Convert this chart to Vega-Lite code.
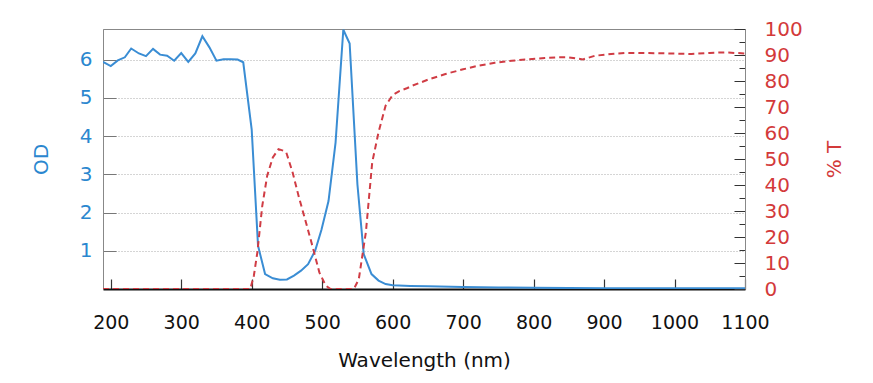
{
  "$schema": "https://vega.github.io/schema/vega-lite/v6.json",
  "width": 642,
  "height": 260,
  "autosize": {"type": "none"},
  "padding": {"left": 103, "top": 29, "right": 128, "bottom": 94},
  "background": "white",
  "config": {"view": {"stroke": "#888", "strokeWidth": 1}, "font": "DejaVu Sans"},
  "datasets": {
    "od": [
      {"wl": 189, "od": 5.94}, {"wl": 200, "od": 5.83}, {"wl": 210, "od": 5.98}, {"wl": 220, "od": 6.06},
      {"wl": 229, "od": 6.29}, {"wl": 240, "od": 6.16}, {"wl": 250, "od": 6.09}, {"wl": 260, "od": 6.28},
      {"wl": 270, "od": 6.13}, {"wl": 280, "od": 6.10}, {"wl": 290, "od": 5.97}, {"wl": 300, "od": 6.17},
      {"wl": 310, "od": 5.94}, {"wl": 320, "od": 6.16}, {"wl": 330, "od": 6.61}, {"wl": 340, "od": 6.32},
      {"wl": 350, "od": 5.97}, {"wl": 360, "od": 6.01}, {"wl": 370, "od": 6.01}, {"wl": 380, "od": 6.0},
      {"wl": 388, "od": 5.93}, {"wl": 400, "od": 4.17}, {"wl": 409, "od": 1.13}, {"wl": 419, "od": 0.39},
      {"wl": 430, "od": 0.28}, {"wl": 440, "od": 0.24}, {"wl": 450, "od": 0.25}, {"wl": 460, "od": 0.35},
      {"wl": 470, "od": 0.48}, {"wl": 480, "od": 0.65}, {"wl": 490, "od": 1.0}, {"wl": 499, "od": 1.55},
      {"wl": 509, "od": 2.30}, {"wl": 519, "od": 3.83}, {"wl": 530, "od": 6.78}, {"wl": 539, "od": 6.42},
      {"wl": 550, "od": 2.74}, {"wl": 559, "od": 0.91}, {"wl": 570, "od": 0.39}, {"wl": 580, "od": 0.22},
      {"wl": 590, "od": 0.13}, {"wl": 600, "od": 0.10}, {"wl": 625, "od": 0.08}, {"wl": 650, "od": 0.07},
      {"wl": 700, "od": 0.05}, {"wl": 750, "od": 0.04}, {"wl": 800, "od": 0.03}, {"wl": 900, "od": 0.02},
      {"wl": 1000, "od": 0.02}, {"wl": 1100, "od": 0.02}
    ],
    "t": [
      {"wl": 189, "t": 0}, {"wl": 300, "t": 0}, {"wl": 398, "t": 0}, {"wl": 403, "t": 5},
      {"wl": 408, "t": 14}, {"wl": 415, "t": 32}, {"wl": 422, "t": 43.6}, {"wl": 430, "t": 50.6},
      {"wl": 438, "t": 53.8}, {"wl": 445, "t": 53.2}, {"wl": 449, "t": 52.6}, {"wl": 458, "t": 44.9},
      {"wl": 467, "t": 35.3}, {"wl": 477, "t": 25.6}, {"wl": 486, "t": 16.7}, {"wl": 496, "t": 6.4},
      {"wl": 505, "t": 1.3}, {"wl": 512, "t": 0}, {"wl": 545, "t": 0}, {"wl": 552, "t": 3.8},
      {"wl": 562, "t": 21.8}, {"wl": 571, "t": 48.7}, {"wl": 580, "t": 60.3}, {"wl": 590, "t": 70.5},
      {"wl": 600, "t": 74.6}, {"wl": 610, "t": 76.2}, {"wl": 621, "t": 77.3}, {"wl": 628, "t": 78.2},
      {"wl": 650, "t": 80.5}, {"wl": 675, "t": 82.7}, {"wl": 700, "t": 84.5}, {"wl": 722, "t": 85.9},
      {"wl": 745, "t": 87.0}, {"wl": 769, "t": 87.8}, {"wl": 790, "t": 88.3}, {"wl": 816, "t": 88.8},
      {"wl": 835, "t": 89.1}, {"wl": 850, "t": 89.1}, {"wl": 870, "t": 88.3}, {"wl": 887, "t": 89.7},
      {"wl": 910, "t": 90.4}, {"wl": 930, "t": 90.8}, {"wl": 977, "t": 90.7}, {"wl": 1024, "t": 90.4},
      {"wl": 1050, "t": 90.8}, {"wl": 1071, "t": 91.0}, {"wl": 1100, "t": 90.6}
    ]
  },
  "layer": [
    {
      "data": {"name": "od"},
      "mark": {"type": "line", "color": "#3a8dd4", "strokeWidth": 2, "clip": true},
      "encoding": {
        "x": {
          "field": "wl", "type": "quantitative",
          "scale": {"domain": [189, 1100], "nice": false, "zero": false},
          "axis": {
            "title": "Wavelength (nm)",
            "values": [200, 300, 400, 500, 600, 700, 800, 900, 1000, 1100],
            "format": "d", "labelOverlap": false, "labelFlush": false,
            "tickSize": -10, "tickColor": "#333", "tickWidth": 1.2, "domainColor": "#111", "domainWidth": 2,
            "labelFontSize": 19, "labelColor": "#111", "labelPadding": 34,
            "titleFontSize": 20, "titleFontWeight": "normal", "titleColor": "#111", "titlePadding": 18,
            "grid": false
          }
        },
        "y": {
          "field": "od", "type": "quantitative",
          "scale": {"domain": [0, 6.8], "nice": false},
          "axis": {
            "title": "OD", "values": [1, 2, 3, 4, 5, 6],
            "tickSize": -13, "tickColor": "#777", "domainColor": "#888",
            "grid": true, "gridDash": [1, 2], "gridColor": "#aaa",
            "labelColor": "#2b87cf", "labelFontSize": 20, "labelPadding": 24,
            "titleColor": "#2b87cf", "titleFontSize": 20, "titleFontWeight": "normal", "titlePadding": 28
          }
        }
      }
    },
    {
      "data": {"name": "t"},
      "mark": {"type": "line", "color": "#d03c44", "strokeDash": [6, 4], "strokeWidth": 2, "clip": true},
      "encoding": {
        "x": {"field": "wl", "type": "quantitative"},
        "y": {
          "field": "t", "type": "quantitative",
          "scale": {"domain": [0, 100], "nice": false},
          "axis": {
            "orient": "right", "title": "% T",
            "values": [0, 5, 10, 15, 20, 25, 30, 35, 40, 45, 50, 55, 60, 65, 70, 75, 80, 85, 90, 95, 100],
            "labelExpr": "datum.value % 10 === 0 ? datum.label : ''",
            "labelOverlap": false, "labelFlush": false,
            "tickSize": {"condition": {"test": "datum.value % 10 === 0", "value": -11}, "value": -6},
            "tickColor": "#333", "domainColor": "#888", "grid": false,
            "labelColor": "#d33a3a", "labelFontSize": 20, "labelPadding": 30,
            "titleColor": "#d33a3a", "titleFontSize": 20, "titleFontWeight": "normal", "titleAngle": 270, "titlePadding": 42
          }
        }
      }
    }
  ],
  "resolve": {"scale": {"y": "independent"}}
}
